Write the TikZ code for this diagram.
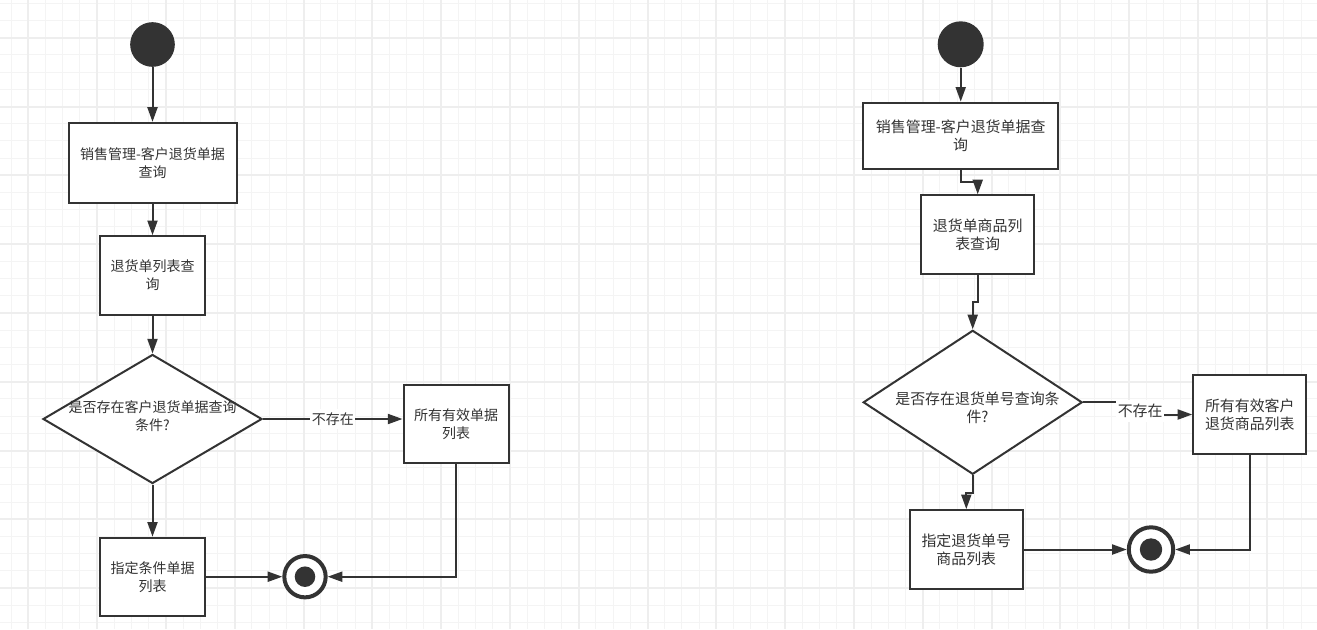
\documentclass[tikz,border=0pt]{standalone}
\usepackage{fontspec}
\newfontfamily\cjk{Noto Sans CJK SC}
\usetikzlibrary{shapes.geometric,arrows.meta}
\definecolor{ink}{HTML}{333333}
\definecolor{gmin}{HTML}{F4F4F4}
\definecolor{gmaj}{HTML}{EEEEEE}
\newcommand\dgfont{\cjk\fontsize{10.5pt}{13.5pt}\selectfont}
\newcommand\dgfontr{\cjk\fontsize{11.2pt}{13.6pt}\selectfont}
\begin{document}
\begin{tikzpicture}[x=0.75pt,y=-0.75pt,
  box/.style={draw=ink, line width=1.5pt, fill=white, rectangle, inner sep=0pt, align=center, font=\dgfont, text=ink},
  dia/.style={draw=ink, line width=1.5pt, fill=white, diamond, inner sep=0pt},
  txt/.style={align=center, font=\dgfont, text=ink, inner sep=0pt},
  flow/.style={draw=ink, line width=1.5pt, -{Triangle[length=11pt,width=7.5pt]}},
  lbl/.style={fill=white, inner xsep=1pt, inner ysep=3pt, font=\dgfont, text=ink},
  rside/.style={font=\dgfontr},
  startnode/.style={circle, fill=ink, minimum size=33.5pt, inner sep=0pt},
  endnode/.style={circle, draw=ink, line width=3pt, fill=white, inner sep=0pt,
    path picture={\fill[ink] (path picture bounding box.center) circle (#1);}}
]
\useasboundingbox (0,0) rectangle (1317,629);
\fill[white] (0,0) rectangle (1317,629);
% grid
\foreach \i in {0,...,76} \draw[gmin, line width=0.75pt] ({floor(11.1+17.2*\i)+0.5},0) -- ({floor(11.1+17.2*\i)+0.5},629);
\foreach \j in {0,...,36} \draw[gmin, line width=0.75pt] (0,{floor(3.3+17.2*\j)+0.5}) -- (1317,{floor(3.3+17.2*\j)+0.5});
\foreach \i in {0,...,18} \draw[gmaj, line width=1.5pt] ({round(28.3+68.8*\i)},0) -- ({round(28.3+68.8*\i)},629);
\foreach \j in {0,...,8} \draw[gmaj, line width=1.5pt] (0,{round(37.7+68.8*\j)}) -- (1317,{round(37.7+68.8*\j)});

% left diagram
\node[startnode] (s1) at (152.5,44.5) {};
\node[box, minimum width=126pt, minimum height=60.2pt] (b1) at (152.5,163) {销售管理-客户退货单据\\查询};
\node[box, minimum width=79.3pt, minimum height=59pt] (b2) at (152.5,275.5) {退货单列表查\\询};
\node[dia, minimum width=164.25pt, minimum height=96.75pt] (d1) at (152.5,419) {};
\node[txt] (d1t) at (152.5,416) {是否存在客户退货单据查询\\条件?};
\node[box, minimum width=78.75pt, minimum height=59pt] (b3) at (456,424) {所有有效单据\\列表};
\node[box, minimum width=79pt, minimum height=58.5pt] (b4) at (152.5,576.7) {指定条件单据\\列表};
\node[endnode=7.7pt, minimum size=31pt] (e1) at (305,576.7) {};

\draw[flow] (s1) -- (b1);
\draw[flow] (b1) -- (b2);
\draw[flow] (b2) -- (d1);
\draw[flow] (d1.east) -- (d1.east -| b3.west) node[midway, lbl] {不存在};
\draw[flow] (d1) -- (b4);
\draw[flow] (b4) -- (e1);
\draw[flow] (b3.south) |- (e1.east);

% right diagram
\node[startnode, minimum size=34.5pt] (s2) at (960.7,44.3) {};
\node[box, rside, minimum width=146.25pt, minimum height=49.7pt] (r1) at (960.7,135.8) {销售管理-客户退货单据查\\询};
\node[box, rside, minimum width=85pt, minimum height=59.25pt] (r2) at (977.7,234.8) {退货单商品列\\表查询};
\node[dia, minimum width=164.25pt, minimum height=108pt] (d2) at (972.7,402.3) {};
\node[txt, rside] (d2t) at (977.5,408) {是否存在退货单号查询条\\件?};
\node[box, rside, minimum width=84.75pt, minimum height=59.25pt] (r3) at (1249.8,414.5) {所有有效客户\\退货商品列表};
\node[box, rside, minimum width=85pt, minimum height=59pt] (r4) at (966.3,549.5) {指定退货单号\\商品列表};
\node[endnode=8.4pt, minimum size=33.3pt] (e2) at (1151,549.5) {};

\draw[flow] (s2) -- (r1);
\draw[flow] (r1.south) -- ++(0,11.7) -| (r2.north);
\draw[flow] (r2.south) -- ++(0,26.4) -| (d2.north);
\draw[flow] (d2.east) -- ++(57,0) |- (r3.west) node[pos=0.36, lbl, rside] {不存在};
\draw[flow] (d2.south) -- ++(0,18) -| (r4.north);
\draw[flow] (r4) -- (e2);
\draw[flow] (r3.south) |- (e2.east);
\end{tikzpicture}
\end{document}
